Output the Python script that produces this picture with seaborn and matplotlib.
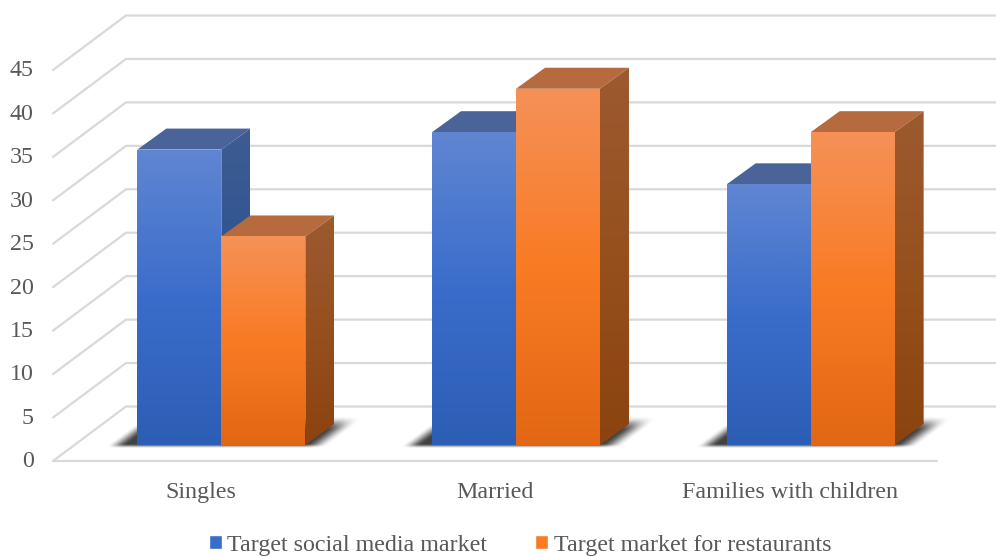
import numpy as np
import pandas as pd
import matplotlib
matplotlib.use("Agg")
import matplotlib.pyplot as plt
import matplotlib.transforms as mtransforms
from matplotlib.patches import Patch, Polygon
from matplotlib.colors import LinearSegmentedColormap
import seaborn as sns

categories = ["Singles", "Married", "Families with children"]
series_names = ["Target social media market", "Target market for restaurants"]
social_values = [34, 36, 30]
restaurant_values = [24, 41, 36]
y_ticks = list(range(0, 50, 5))

sns.set_style("white")
plt.rcParams["font.family"] = ["Liberation Serif", "DejaVu Serif"]

W, H = 996, 556
TXT = "#595959"
GRID = "#D9D9D9"
FS = 17.3

front_gradient = [["#6086D2", "#3A6DCB", "#2C5EB5"], ["#F59158", "#F97B24", "#E26714"]]
side_gradient = [["#3D5C92", "#2F5390", "#28497F"], ["#9D5A30", "#96501E", "#8B430F"]]
top_colors = ["#4A6499", "#B66B3F"]
palette = ["#3A6DCB", "#F97B24"]


def frame(left, right, bottom, top):
    return [left / W, 1 - bottom / H, (right - left) / W, (bottom - top) / H]


fig = plt.figure(figsize=(W / 100, H / 100), dpi=100, facecolor="white")

# front plane of the 3-D box: carries the ticks and the wall lines
ax = fig.add_axes(frame(53, 937, 461, 70))
ax.set_xlim(-0.5, 2.5)
ax.set_ylim(0, 45)
ax.set_xticks(range(len(categories)), categories)
ax.set_yticks(y_ticks)
ax.tick_params(axis="both", length=0, labelsize=FS, labelcolor=TXT)
ax.tick_params(axis="x", pad=15)
ax.tick_params(axis="y", pad=14)
nudge = mtransforms.ScaledTranslation(0, 1.2 / 72, fig.dpi_scale_trans)
for lbl in ax.get_yticklabels():
    lbl.set_transform(lbl.get_transform() + nudge)
sns.despine(ax=ax, left=True, bottom=True, top=True, right=True)
ax.patch.set_alpha(0)

px_x = 884 / 3          # pixels per category
px_y = 391 / 45         # pixels per value unit
wall_dx, wall_dy = 73 / px_x, 54.5 / px_y
for v in y_ticks:
    ax.plot([-0.5, -0.5 + wall_dx, 2.5 + wall_dx], [v, v + wall_dy, v + wall_dy],
            color=GRID, lw=1.6, clip_on=False, zorder=1, solid_joinstyle="miter")
ax.plot([-0.5, 2.5], [0, 0], color=GRID, lw=1.6, clip_on=False, zorder=1)

# bar plane: same scales, shifted into the depth of the box
bx = fig.add_axes(frame(53 + 21, 937 + 21, 461 - 16, 70 - 16))
bx.patch.set_alpha(0)
df = pd.DataFrame({
    "category": categories * 2,
    "series": [series_names[0]] * 3 + [series_names[1]] * 3,
    "value": social_values + restaurant_values,
})
sns.barplot(data=df, x="category", y="value", hue="series", hue_order=series_names,
            palette=palette, width=0.57, gap=0, dodge=True, legend=False, saturation=1, ax=bx)
bx.set_xlim(-0.5, 2.5)
bx.set_ylim(0, 45)
bx.axis("off")

bar_dx, bar_dy = 29 / px_x, 21 / px_y
ramp = np.linspace(1, 0, 256).reshape(-1, 1)

bars = sorted(bx.patches, key=lambda p: p.get_x())


def gradient(poly, colors, extent, z):
    poly.set(facecolor="none", edgecolor="none", zorder=z, clip_on=False)
    bx.add_patch(poly)
    cmap = LinearSegmentedColormap.from_list("g", colors[::-1])
    im = bx.imshow(ramp, cmap=cmap, extent=extent, aspect="auto", zorder=z, clip_on=True)
    im.set_clip_path(poly)


def smooth(t):
    t = np.clip(t, 0, 1)
    return t * t * (3 - 2 * t)


# soft contact shadows on the floor, one per group (worked out in pixels around the bars)
groups = [bars[i:i + 2] for i in range(0, len(bars), 2)]
skew = 73 / 54.5
for pair in groups:
    left = pair[0].get_x() * px_x
    right = (pair[1].get_x() + pair[1].get_width()) * px_x
    xs = np.arange(left - 40, right + 70, 0.5)
    ys = np.arange(-6, 40, 0.5)
    gx, gy = np.meshgrid(xs, ys)
    u = gx - skew * gy
    alpha = (smooth((u - (left - 30)) / 20) * smooth(((right + 24) - u) / 24)
             * smooth((gy + 3.5) / 4.5) * smooth((29 - gy) / 15)) * 0.85
    rgba = np.zeros(gx.shape + (4,))
    rgba[..., :3] = 0.12
    rgba[..., 3] = alpha
    bx.imshow(rgba, origin="lower", aspect="auto", interpolation="bilinear", zorder=2, clip_on=False,
              extent=(xs[0] / px_x, xs[-1] / px_x, ys[0] / px_y, ys[-1] / px_y))

z = 3.0
for i, bar in enumerate(bars):
    s = i % 2
    x, w, h = bar.get_x(), bar.get_width(), bar.get_height()
    bar.set_visible(False)
    # top face
    bx.add_patch(Polygon([(x, h), (x + w, h), (x + w + bar_dx, h + bar_dy), (x + bar_dx, h + bar_dy)],
                         closed=True, facecolor=top_colors[s], edgecolor="none", clip_on=False, zorder=z))
    # side face
    gradient(Polygon([(x + w, 0), (x + w + bar_dx, bar_dy), (x + w + bar_dx, h + bar_dy), (x + w, h)], closed=True),
             side_gradient[s], (x + w, x + w + bar_dx, 0, h + bar_dy), z + 0.1)
    # front face
    gradient(Polygon([(x, 0), (x + w, 0), (x + w, h), (x, h)], closed=True),
             front_gradient[s], (x, x + w, 0, h), z + 0.2)
    z += 1

bx.set_xlim(-0.5, 2.5)
bx.set_ylim(0, 45)

handles = [Patch(facecolor=palette[0], label=series_names[0]),
           Patch(facecolor=palette[1], label=series_names[1])]
fig.legend(handles=handles, loc="center", bbox_to_anchor=(520 / W, 1 - 545 / H), ncols=2, frameon=False,
           fontsize=FS, labelcolor=TXT, handlelength=0.55, handleheight=0.55, handletextpad=0.22,
           columnspacing=2.0, borderpad=0, borderaxespad=0)

fig.savefig("out.png", dpi=100, facecolor="white")
